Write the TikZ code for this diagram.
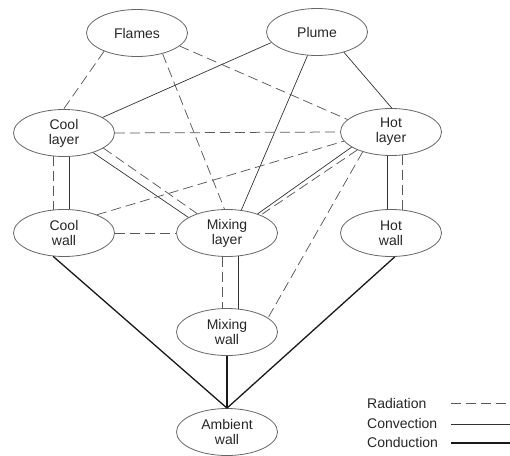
\documentclass[tikz,border=0pt]{standalone}
\usepackage{fontspec}
\setmainfont{Liberation Sans}
\usetikzlibrary{shapes.geometric}
\begin{document}
\begin{tikzpicture}[x=1pt,y=-1pt,
  state/.style={ellipse, draw=black!60, line width=0.8pt, minimum width=101pt,
    minimum height=47pt, inner sep=0pt, align=center,
    font=\fontsize{14}{15}\selectfont, text=black!85},
  rad/.style={draw=black!65, line width=0.75pt, dash pattern=on 10pt off 5pt},
  conv/.style={draw=black!80, line width=0.7pt},
  cond/.style={draw=black!90, line width=1.3pt},
  lbl/.style={anchor=base west, inner sep=0pt,
    font=\fontsize{14}{15}\selectfont, text=black!85}]
\useasboundingbox (0,0) rectangle (510,455);

% zones and walls
\node[state] (fl) at (137,33)  {Flames};
\node[state] (pl) at (317,32)  {Plume};
\node[state] (cl) at (64,133)  {Cool\\layer};
\node[state] (hl) at (391,132) {Hot\\layer};
\node[state] (cw) at (64,233)  {Cool\\wall};
\node[state] (ml) at (227,233) {Mixing\\layer};
\node[state] (hw) at (391,233) {Hot\\wall};
\node[state] (mw) at (227,332) {Mixing\\wall};
\node[state] (aw) at (227,432) {Ambient\\wall};

% exchanges from the flames and the plume
\draw[rad]  (fl.-151) -- (cl.91);
\draw[rad]  (fl.-39)  -- (ml.96);
\draw[rad]  (fl.-17)  -- (hl.164);
\draw[conv] (pl.193)  -- (cl.22);
\draw[conv] (pl.248)  -- (ml.58);
\draw[conv] (pl.-37)  -- (hl.88);

% exchanges between layers and walls
\draw[rad]  (cl.east) -- (hl.west);
\draw[rad]  (cl.-114) -- (cw.114);
\draw[conv] (cl.-78)  -- (cw.78);
\draw[conv] (cl.-34)  -- (ml.158);
\draw[rad]  (cl.-21)  -- (ml.147);
\draw[rad]  (cw.29)   -- (hl.191);
\draw[rad]  (cw.east) -- (ml.west);
\draw[conv] (hl.201)  -- (ml.32);
\draw[rad]  (hl.208)  -- (ml.28);
\draw[rad]  (hl.215)  -- (mw.19);
\draw[conv] (hl.-99)  -- (hw.99);
\draw[rad]  (hl.-63.5) -- (hw.63.5);
\draw[rad]  (ml.-102) -- (mw.102);
\draw[conv] (ml.-63)  -- (mw.63);

% conduction to the ambient
\draw[cond] (cw.-115)  -- (aw.north);
\draw[cond] (mw.south) -- (aw.north);
\draw[cond] (hw.-81)   -- (aw.north);

% legend
\node[lbl] (tr) at (367,408) {Radiation};
\node[lbl] (tv) at (367,428) {Convection};
\node[lbl] (td) at (367,447) {Conduction};
\coordinate (r1) at (451,403); \coordinate (r2) at (510,403);
\coordinate (v1) at (451,424); \coordinate (v2) at (510,424);
\coordinate (d1) at (451,443); \coordinate (d2) at (510,443);
\draw[rad]  (r1) -- (r2);
\draw[conv] (v1) -- (v2);
\draw[cond] (d1) -- (d2);
\end{tikzpicture}
\end{document}
